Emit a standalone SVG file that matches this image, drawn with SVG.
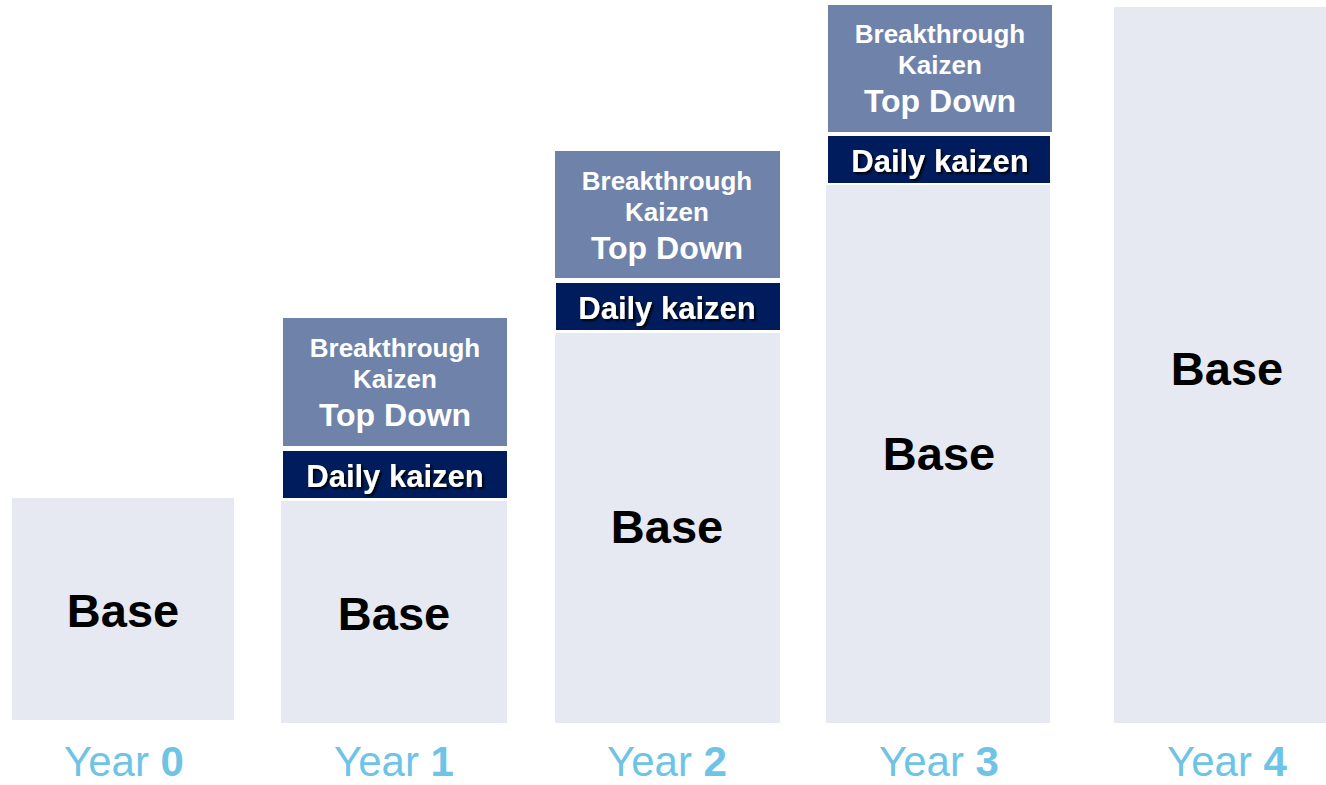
<svg xmlns="http://www.w3.org/2000/svg" width="1326" height="785" viewBox="0 0 1326 785">
<defs>
<filter id="sh" x="-10%" y="-30%" width="130%" height="170%">
<feDropShadow dx="2" dy="2" stdDeviation="1" flood-color="#000" flood-opacity="0.9"/>
</filter>
</defs>
<style>
.base{fill:#E6E9F2}
.top{fill:#6F83AA}
.daily{fill:#001C5C}
text{font-family:"Liberation Sans",Arial,sans-serif;font-weight:bold;text-anchor:middle}
.bt{fill:#fff;font-size:26px}
.td{fill:#fff;font-size:32px}
.dk{fill:#fff;font-size:31px;filter:url(#sh)}
.bl{fill:#000;font-size:47px}
.yr{fill:#6EC3E6;font-size:42px;font-weight:normal}
.yr tspan.n{font-weight:bold}
</style>
<rect width="1326" height="785" fill="#fff"/>
<g id="year0">
<rect class="base" x="12" y="498" width="222" height="222"/>
<text class="bl" x="123" y="627">Base</text>
<text class="yr" x="124" y="776">Year <tspan class="n">0</tspan></text>
</g>
<g id="year1">
<rect class="base" x="281" y="501" width="226" height="222"/>
<rect class="daily" x="283" y="451" width="224" height="47"/>
<rect class="top" x="283" y="318" width="224" height="128"/>
<text class="bt" x="395" y="357">Breakthrough</text>
<text class="bt" x="395" y="388">Kaizen</text>
<text class="td" x="395" y="426">Top Down</text>
<text class="dk" x="395" y="487">Daily kaizen</text>
<text class="bl" x="394" y="630">Base</text>
<text class="yr" x="394" y="776">Year <tspan class="n">1</tspan></text>
</g>
<g id="year2">
<rect class="base" x="555" y="333" width="225" height="390"/>
<rect class="daily" x="556" y="283" width="224" height="47"/>
<rect class="top" x="555" y="151" width="225" height="127"/>
<text class="bt" x="667" y="190">Breakthrough</text>
<text class="bt" x="667" y="221">Kaizen</text>
<text class="td" x="667" y="259">Top Down</text>
<text class="dk" x="667" y="319">Daily kaizen</text>
<text class="bl" x="667" y="543">Base</text>
<text class="yr" x="667" y="776">Year <tspan class="n">2</tspan></text>
</g>
<g id="year3">
<rect class="base" x="826" y="185" width="224" height="538"/>
<rect class="daily" x="828" y="136" width="222" height="47"/>
<rect class="top" x="828" y="5" width="224" height="127"/>
<text class="bt" x="940" y="43">Breakthrough</text>
<text class="bt" x="940" y="74">Kaizen</text>
<text class="td" x="940" y="112">Top Down</text>
<text class="dk" x="940" y="172">Daily kaizen</text>
<text class="bl" x="939" y="470">Base</text>
<text class="yr" x="939" y="776">Year <tspan class="n">3</tspan></text>
</g>
<g id="year4">
<rect class="base" x="1114" y="7" width="212" height="716"/>
<text class="bl" x="1227" y="385">Base</text>
<text class="yr" x="1227" y="776">Year <tspan class="n">4</tspan></text>
</g>
<g id="connectors"/>
</svg>
